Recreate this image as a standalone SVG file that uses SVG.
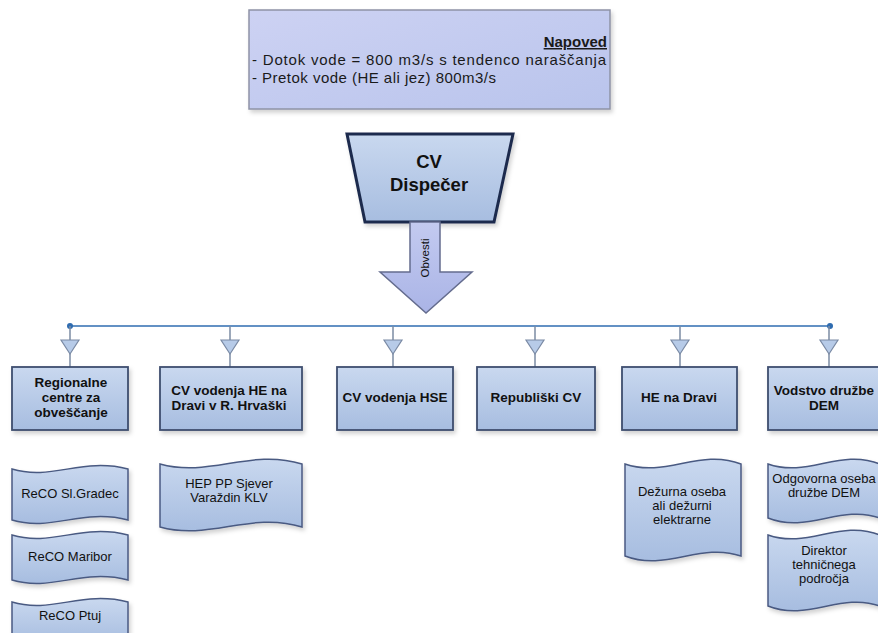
<svg xmlns="http://www.w3.org/2000/svg" width="878" height="633" viewBox="0 0 878 633">
  <defs>
    <linearGradient id="gBox" x1="0" y1="0" x2="0" y2="1">
      <stop offset="0" stop-color="#c9d8ef"/>
      <stop offset="1" stop-color="#a7bde0"/>
    </linearGradient>
    <linearGradient id="gNote" x1="0" y1="0" x2="1" y2="1">
      <stop offset="0" stop-color="#cdd2f3"/>
      <stop offset="1" stop-color="#b9c4ec"/>
    </linearGradient>
    <linearGradient id="gArrow" x1="0" y1="0" x2="0" y2="1">
      <stop offset="0" stop-color="#c3caf0"/>
      <stop offset="1" stop-color="#aab4e6"/>
    </linearGradient>
    <filter id="shadow" x="-10%" y="-10%" width="130%" height="130%">
      <feDropShadow dx="2" dy="3" stdDeviation="2" flood-color="#000" flood-opacity="0.18"/>
    </filter>
  </defs>
  <style>
    .box { fill: url(#gBox); stroke: #3f4e6e; stroke-width: 1.8; filter: url(#shadow); }
    .doc { fill: url(#gBox); stroke: #4a5a82; stroke-width: 1.5; filter: url(#shadow); }
    .lbl { font-family: "Liberation Sans", Arial, sans-serif; font-weight: bold; font-size: 13.5px; fill: #111; text-anchor: middle; }
    .dtx { font-family: "Liberation Sans", Arial, sans-serif; font-size: 13px; fill: #111; text-anchor: middle; }
    .note { font-family: "Liberation Sans", Arial, sans-serif; font-size: 15px; fill: #1a1a1a; }
    .bus { stroke: #2f6cb0; stroke-width: 1.6; fill: none; }
    .drop { stroke: #7c8ca4; stroke-width: 1.5; fill: none; }
    .tri { fill: #b7cbe8; stroke: #7a8aa4; stroke-width: 1.2; }
    .dot { fill: #2f6cb0; }
  </style>

  <rect width="878" height="633" fill="#ffffff"/>

  <!-- forecast note -->
  <g id="napoved">
    <rect x="249" y="10" width="361" height="99" fill="url(#gNote)" stroke="#8e93a6" stroke-width="1.5" filter="url(#shadow)"/>
    <text x="607" y="47" font-family="Liberation Sans, Arial, sans-serif" font-weight="bold" font-size="15" text-anchor="end" fill="#1a1a1a" text-decoration="underline">Napoved</text>
    <text class="note" x="252" y="65" textLength="354" lengthAdjust="spacing">- Dotok vode = 800 m3/s s tendenco naraščanja</text>
    <text class="note" x="252" y="83" textLength="244" lengthAdjust="spacing">- Pretok vode (HE ali jez) 800m3/s</text>
  </g>

  <!-- dispatcher -->
  <g id="dispecer">
    <polygon points="347,134 513,134 494,222 365,222" fill="url(#gBox)" stroke="#1e2c4e" stroke-width="3" filter="url(#shadow)"/>
    <text x="429" y="168" font-family="Liberation Sans, Arial, sans-serif" font-weight="bold" font-size="18.5" text-anchor="middle" fill="#111">CV</text>
    <text x="429" y="191" font-family="Liberation Sans, Arial, sans-serif" font-weight="bold" font-size="18.5" text-anchor="middle" fill="#111">Dispečer</text>
  </g>

  <!-- notify arrow -->
  <g id="obvesti">
    <polygon points="410,222 440,222 440,272 472,272 426,313 380,272 410,272" fill="url(#gArrow)" stroke="#646c8e" stroke-width="1.5"/>
    <text transform="translate(429,258) rotate(-90)" font-family="Liberation Sans, Arial, sans-serif" font-size="11.5" text-anchor="middle" fill="#111">Obvesti</text>
  </g>

  <!-- connectors -->
  <g id="connectors">
    <line class="bus" x1="70" y1="326" x2="830" y2="326"/>
    <circle class="dot" cx="70" cy="326" r="3"/>
    <circle class="dot" cx="830" cy="326" r="3"/>
    <path class="drop" d="M70,326V367M230,326V367M393,326V367M535,326V367M680,326V367M829,326V367"/>
    <polygon class="tri" points="61,340 79,340 70,354"/>
    <polygon class="tri" points="221,340 239,340 230,354"/>
    <polygon class="tri" points="384,340 402,340 393,354"/>
    <polygon class="tri" points="526,340 544,340 535,354"/>
    <polygon class="tri" points="671,340 689,340 680,354"/>
    <polygon class="tri" points="820,340 838,340 829,354"/>
  </g>

  <!-- receivers -->
  <g id="regionalne">
    <rect class="box" x="12" y="367" width="116" height="63"/>
    <text class="lbl" x="71" y="387">Regionalne</text>
    <text class="lbl" x="71" y="402">centre za</text>
    <text class="lbl" x="71" y="417">obveščanje</text>
  </g>
  <g id="cv-hrvaska">
    <rect class="box" x="160" y="367" width="142" height="63"/>
    <text class="lbl" x="229" y="395">CV vodenja HE na</text>
    <text class="lbl" x="229" y="410">Dravi v R. Hrvaški</text>
  </g>
  <g id="cv-hse">
    <rect class="box" x="337" y="367" width="116" height="63"/>
    <text class="lbl" x="395" y="402">CV vodenja HSE</text>
  </g>
  <g id="republiski">
    <rect class="box" x="477" y="367" width="118" height="63"/>
    <text class="lbl" x="536" y="402">Republiški CV</text>
  </g>
  <g id="he-drava">
    <rect class="box" x="622" y="367" width="115" height="63"/>
    <text class="lbl" x="679" y="402">HE na Dravi</text>
  </g>
  <g id="vodstvo">
    <rect class="box" x="768" y="367" width="120" height="63"/>
    <text class="lbl" x="824" y="395">Vodstvo družbe</text>
    <text class="lbl" x="824" y="410">DEM</text>
  </g>

  <!-- contacts -->
  <g id="reco-gradec">
    <path class="doc" d="M12,469 C52,481 82,457 128,469 L128,520 C82,508 52,532 12,520 Z"/>
    <text class="dtx" x="70" y="498">ReCO Sl.Gradec</text>
  </g>
  <g id="reco-maribor">
    <path class="doc" d="M12,535 C52,547 82,523 128,535 L128,580 C82,568 52,592 12,580 Z"/>
    <text class="dtx" x="70" y="561">ReCO Maribor</text>
  </g>
  <g id="reco-ptuj">
    <path class="doc" d="M12,602 C52,614 82,590 128,602 L128,640 C82,628 52,652 12,640 Z"/>
    <text class="dtx" x="70" y="620">ReCO Ptuj</text>
  </g>
  <g id="hep-pp">
    <path class="doc" d="M160,464 C210,478 250,448 302,464 L302,527 C250,511 210,541 160,527 Z"/>
    <text class="dtx" x="229" y="488">HEP PP Sjever</text>
    <text class="dtx" x="229" y="502">Varaždin KLV</text>
  </g>
  <g id="dezurna">
    <path class="doc" d="M625,464 C666,478 700,448 741,464 L741,556 C700,542 666,572 625,556 Z"/>
    <text class="dtx" x="682" y="496">Dežurna oseba</text>
    <text class="dtx" x="682" y="510">ali dežurni</text>
    <text class="dtx" x="682" y="524">elektrarne</text>
  </g>
  <g id="odgovorna">
    <path class="doc" d="M768,464 C808,478 840,448 880,464 L880,518 C840,504 808,534 768,518 Z"/>
    <text class="dtx" x="824" y="483">Odgovorna oseba</text>
    <text class="dtx" x="824" y="497">družbe DEM</text>
  </g>
  <g id="direktor">
    <path class="doc" d="M768,535 C808,549 840,519 880,535 L880,606 C840,592 808,622 768,606 Z"/>
    <text class="dtx" x="824" y="555">Direktor</text>
    <text class="dtx" x="824" y="569">tehničnega</text>
    <text class="dtx" x="824" y="583">področja</text>
  </g>
</svg>
